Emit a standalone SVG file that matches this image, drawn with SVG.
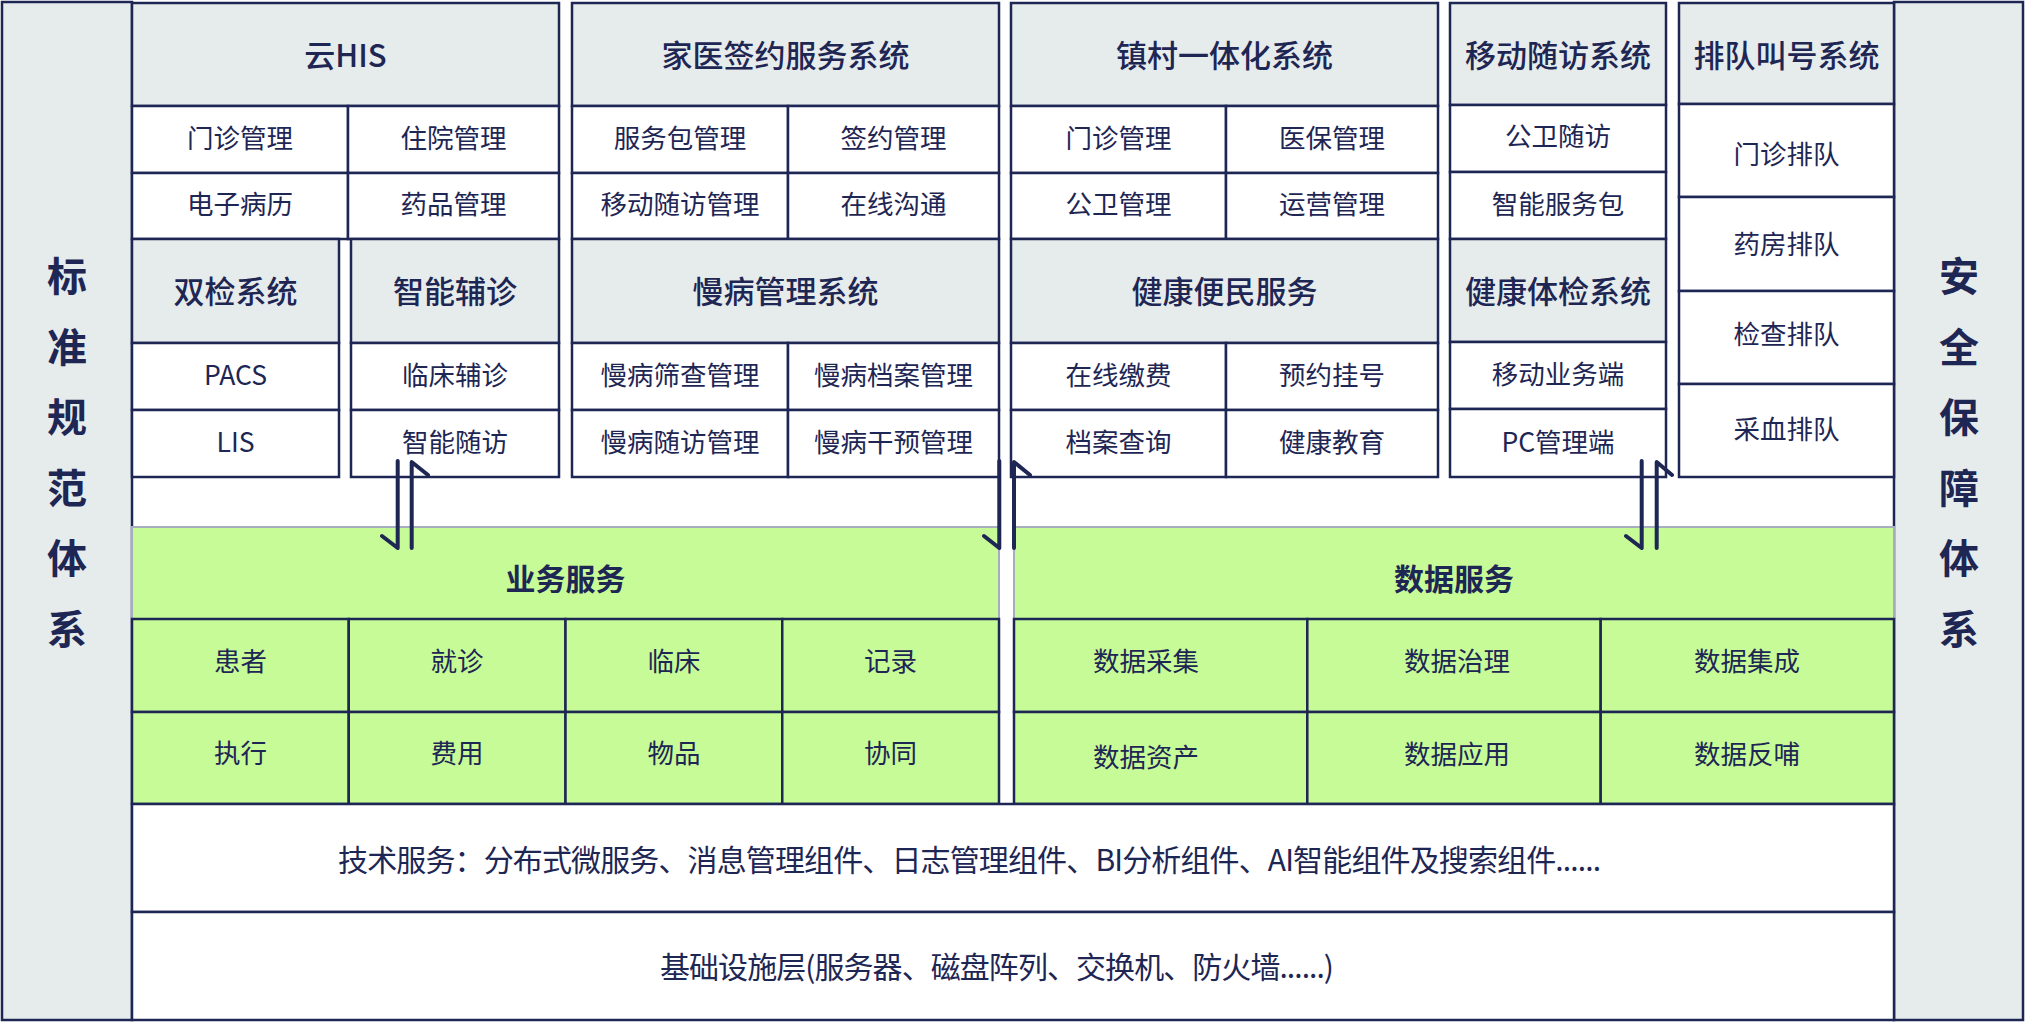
<svg xmlns="http://www.w3.org/2000/svg" width="2026" height="1022" viewBox="0 0 2026 1022">
<style>
.hd{fill:#e6ebeb;stroke:#1e2654;stroke-width:2.5}
.cl{fill:#ffffff;stroke:#1e2654;stroke-width:2.5}
.gh{fill:#c6fb98;stroke:#a6adbf;stroke-width:2}
.gc{fill:#c6fb98;stroke:#1e2654;stroke-width:2.5}
.t{font-family:"Noto Sans CJK SC","Noto Sans",sans-serif;fill:#1e2654;text-anchor:middle;dominant-baseline:central}
.h{font-size:31px;font-weight:500}
.s{font-size:26.5px;font-weight:400}
.b{font-size:30px;font-weight:700}
.v{font-size:40px;font-weight:700}
.w{font-size:30px;font-weight:400}
.ar{fill:none;stroke:#1e2654;stroke-width:4;stroke-linecap:round;stroke-linejoin:round}
</style>
<rect x="0" y="0" width="2026" height="1022" fill="#ffffff"/>

<g id="left-standard">
<rect class="hd" x="2" y="2" width="130" height="1018"/>
<text class="t v" x="67" y="274">标</text>
<text class="t v" x="67" y="344.5">准</text>
<text class="t v" x="67" y="415">规</text>
<text class="t v" x="67" y="485.5">范</text>
<text class="t v" x="67" y="556">体</text>
<text class="t v" x="67" y="626.5">系</text>
</g>

<g id="right-security">
<rect class="hd" x="1894" y="2" width="129" height="1018"/>
<text class="t v" x="1959" y="274">安</text>
<text class="t v" x="1959" y="344.5">全</text>
<text class="t v" x="1959" y="415">保</text>
<text class="t v" x="1959" y="485.5">障</text>
<text class="t v" x="1959" y="556">体</text>
<text class="t v" x="1959" y="626.5">系</text>
</g>

<g id="cloud-his">
<rect class="hd" x="132" y="3" width="427" height="103"/>
<rect class="cl" x="132" y="106" width="216" height="67"/>
<rect class="cl" x="348" y="106" width="211" height="67"/>
<rect class="cl" x="132" y="173" width="216" height="66"/>
<rect class="cl" x="348" y="173" width="211" height="66"/>
<text class="t h" x="345.5" y="53">云HIS</text>
<text class="t s" x="240" y="136">门诊管理</text>
<text class="t s" x="453.5" y="136">住院管理</text>
<text class="t s" x="240" y="202.5">电子病历</text>
<text class="t s" x="453.5" y="202.5">药品管理</text>
</g>

<g id="family-doctor">
<rect class="hd" x="572" y="3" width="427" height="103"/>
<rect class="cl" x="572" y="106" width="216" height="67"/>
<rect class="cl" x="788" y="106" width="211" height="67"/>
<rect class="cl" x="572" y="173" width="216" height="66"/>
<rect class="cl" x="788" y="173" width="211" height="66"/>
<text class="t h" x="785.5" y="53">家医签约服务系统</text>
<text class="t s" x="680" y="136">服务包管理</text>
<text class="t s" x="893.5" y="136">签约管理</text>
<text class="t s" x="680" y="202.5">移动随访管理</text>
<text class="t s" x="893.5" y="202.5">在线沟通</text>
</g>

<g id="town-village">
<rect class="hd" x="1011" y="3" width="427" height="103"/>
<rect class="cl" x="1011" y="106" width="215" height="67"/>
<rect class="cl" x="1226" y="106" width="212" height="67"/>
<rect class="cl" x="1011" y="173" width="215" height="66"/>
<rect class="cl" x="1226" y="173" width="212" height="66"/>
<text class="t h" x="1224.5" y="53">镇村一体化系统</text>
<text class="t s" x="1118.5" y="136">门诊管理</text>
<text class="t s" x="1332" y="136">医保管理</text>
<text class="t s" x="1118.5" y="202.5">公卫管理</text>
<text class="t s" x="1332" y="202.5">运营管理</text>
</g>

<g id="mobile-followup">
<rect class="hd" x="1450" y="3" width="216" height="102"/>
<rect class="cl" x="1450" y="105" width="216" height="67"/>
<rect class="cl" x="1450" y="172" width="216" height="67"/>
<text class="t h" x="1558" y="53">移动随访系统</text>
<text class="t s" x="1558" y="134">公卫随访</text>
<text class="t s" x="1558" y="202">智能服务包</text>
</g>

<g id="queue-calling">
<rect class="hd" x="1679" y="3" width="215" height="101"/>
<rect class="cl" x="1679" y="104" width="215" height="93"/>
<rect class="cl" x="1679" y="197" width="215" height="94"/>
<rect class="cl" x="1679" y="291" width="215" height="93"/>
<rect class="cl" x="1679" y="384" width="215" height="93"/>
<text class="t h" x="1786.5" y="53">排队叫号系统</text>
<text class="t s" x="1786.5" y="152">门诊排队</text>
<text class="t s" x="1786.5" y="242">药房排队</text>
<text class="t s" x="1786.5" y="332">检查排队</text>
<text class="t s" x="1786.5" y="427">采血排队</text>
</g>

<g id="dual-check">
<rect class="hd" x="132" y="239" width="207" height="104"/>
<rect class="cl" x="132" y="343" width="207" height="67"/>
<rect class="cl" x="132" y="410" width="207" height="67"/>
<text class="t h" x="235.5" y="289">双检系统</text>
<text class="t s" x="235.5" y="373.5">PACS</text>
<text class="t s" x="235.5" y="440.5">LIS</text>
</g>

<g id="smart-diagnosis">
<rect class="hd" x="351" y="239" width="208" height="104"/>
<rect class="cl" x="351" y="343" width="208" height="67"/>
<rect class="cl" x="351" y="410" width="208" height="67"/>
<text class="t h" x="455" y="289">智能辅诊</text>
<text class="t s" x="455" y="373.5">临床辅诊</text>
<text class="t s" x="455" y="440.5">智能随访</text>
</g>

<g id="chronic-disease">
<rect class="hd" x="572" y="239" width="427" height="104"/>
<rect class="cl" x="572" y="343" width="216" height="67"/>
<rect class="cl" x="788" y="343" width="211" height="67"/>
<rect class="cl" x="572" y="410" width="216" height="67"/>
<rect class="cl" x="788" y="410" width="211" height="67"/>
<text class="t h" x="785.5" y="289">慢病管理系统</text>
<text class="t s" x="680" y="373.5">慢病筛查管理</text>
<text class="t s" x="893.5" y="373.5">慢病档案管理</text>
<text class="t s" x="680" y="440.5">慢病随访管理</text>
<text class="t s" x="893.5" y="440.5">慢病干预管理</text>
</g>

<g id="health-convenience">
<rect class="hd" x="1011" y="239" width="427" height="104"/>
<rect class="cl" x="1011" y="343" width="215" height="67"/>
<rect class="cl" x="1226" y="343" width="212" height="67"/>
<rect class="cl" x="1011" y="410" width="215" height="67"/>
<rect class="cl" x="1226" y="410" width="212" height="67"/>
<text class="t h" x="1224.5" y="289">健康便民服务</text>
<text class="t s" x="1118.5" y="373.5">在线缴费</text>
<text class="t s" x="1332" y="373.5">预约挂号</text>
<text class="t s" x="1118.5" y="440.5">档案查询</text>
<text class="t s" x="1332" y="440.5">健康教育</text>
</g>

<g id="health-checkup">
<rect class="hd" x="1450" y="239" width="216" height="103"/>
<rect class="cl" x="1450" y="342" width="216" height="67"/>
<rect class="cl" x="1450" y="409" width="216" height="68"/>
<text class="t h" x="1558" y="289">健康体检系统</text>
<text class="t s" x="1558" y="372">移动业务端</text>
<text class="t s" x="1558" y="440">PC管理端</text>
</g>

<g id="business-service">
<rect class="gh" x="132" y="527" width="867" height="92"/>
<rect class="gc" x="132" y="619" width="216.75" height="93"/>
<rect class="gc" x="348.75" y="619" width="216.75" height="93"/>
<rect class="gc" x="565.5" y="619" width="216.75" height="93"/>
<rect class="gc" x="782.25" y="619" width="216.75" height="93"/>
<rect class="gc" x="132" y="712" width="216.75" height="92"/>
<rect class="gc" x="348.75" y="712" width="216.75" height="92"/>
<rect class="gc" x="565.5" y="712" width="216.75" height="92"/>
<rect class="gc" x="782.25" y="712" width="216.75" height="92"/>
<text class="t b" x="565.5" y="577">业务服务</text>
<text class="t s" x="240.4" y="659.5">患者</text>
<text class="t s" x="457" y="659.5">就诊</text>
<text class="t s" x="673.9" y="659.5">临床</text>
<text class="t s" x="890.6" y="659.5">记录</text>
<text class="t s" x="240.4" y="751.5">执行</text>
<text class="t s" x="457" y="751.5">费用</text>
<text class="t s" x="673.9" y="751.5">物品</text>
<text class="t s" x="890.6" y="751.5">协同</text>
</g>

<g id="data-service">
<rect class="gh" x="1014" y="527" width="880" height="92"/>
<rect class="gc" x="1014" y="619" width="293.3" height="93"/>
<rect class="gc" x="1307.3" y="619" width="293.4" height="93"/>
<rect class="gc" x="1600.7" y="619" width="293.3" height="93"/>
<rect class="gc" x="1014" y="712" width="293.3" height="92"/>
<rect class="gc" x="1307.3" y="712" width="293.4" height="92"/>
<rect class="gc" x="1600.7" y="712" width="293.3" height="92"/>
<text class="t b" x="1454" y="577">数据服务</text>
<text class="t s" x="1146" y="659.5">数据采集</text>
<text class="t s" x="1457" y="659.5">数据治理</text>
<text class="t s" x="1747" y="659.5">数据集成</text>
<text class="t s" x="1146" y="755.5">数据资产</text>
<text class="t s" x="1457" y="752">数据应用</text>
<text class="t s" x="1747" y="752">数据反哺</text>
</g>

<g id="tech-service">
<rect class="cl" x="132" y="804" width="1762" height="108"/>
<text class="t w" x="338" y="857.5" style="text-anchor:start" textLength="1263" lengthAdjust="spacing">技术服务：分布式微服务、消息管理组件、日志管理组件、BI分析组件、AI智能组件及搜索组件......</text>
</g>

<g id="infrastructure">
<rect class="cl" x="132" y="912" width="1762" height="108"/>
<text class="t w" x="660" y="965" style="text-anchor:start" textLength="674" lengthAdjust="spacing">基础设施层(服务器、磁盘阵列、交换机、防火墙......)</text>
</g>

<g id="connectors">
<polyline class="ar" points="382,536 397.7,548 397.7,461"/>
<polyline class="ar" points="411.7,548 411.7,462 428,475"/>
<polyline class="ar" points="984,536 999.3,548 999.3,461"/>
<polyline class="ar" points="1014,548 1014,462 1030,475"/>
<polyline class="ar" points="1626,536 1641.7,548 1641.7,461"/>
<polyline class="ar" points="1656.7,548 1656.7,462 1672,475"/>
</g>
</svg>
